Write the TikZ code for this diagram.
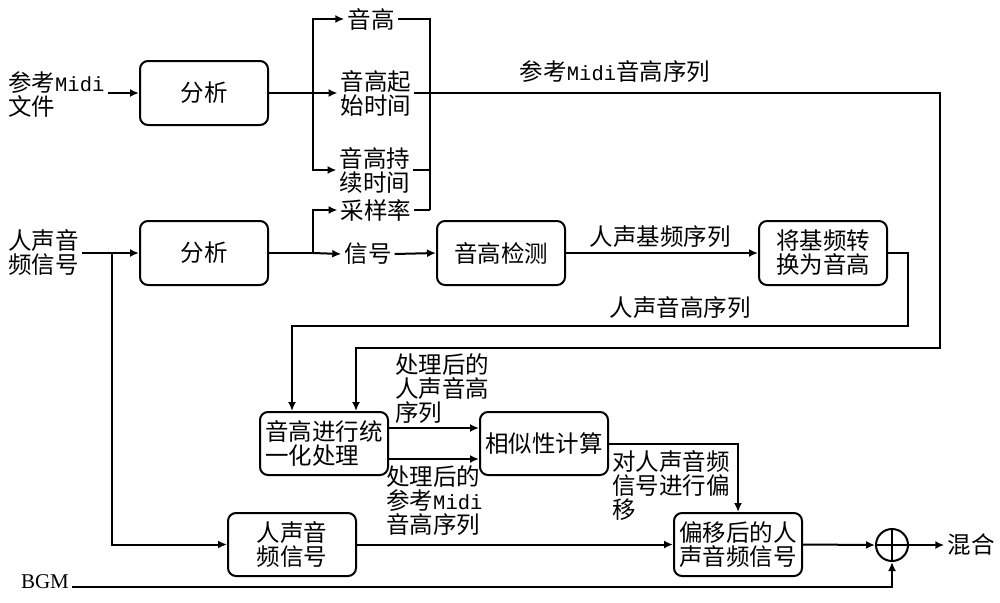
\documentclass[tikz,border=0pt]{standalone}
\usepackage{fontspec}
\setmainfont{Noto Sans CJK SC}
\newfontfamily\monof{Liberation Mono}
\newfontfamily\serf{Liberation Serif}
\usetikzlibrary{arrows.meta}
\newcommand{\Mi}{{\monof\fontsize{20.5}{24}\selectfont Midi}}
\begin{document}
\begin{tikzpicture}[x=1pt,y=-1pt,
  every node/.style={font=\fontsize{23.5}{24}\selectfont},
  box/.style={draw, line width=2pt, rounded corners=8pt, minimum width=128pt, minimum height=64pt, inner sep=2pt, align=center},
  lbl/.style={inner sep=3pt, align=left},
  ln/.style={line width=2pt},
  arr/.style={line width=2pt, -{Latex[length=9pt,width=8pt]}}]
\useasboundingbox (0,0) rectangle (1000,602);

% boxes
\node[box] (ana1) at (204,93) {分析};
\node[box] (ana2) at (204,253) {分析};
\node[box] (det) at (501,253) {音高检测};
\node[box] (conv) at (823,253) {将基频转\\换为音高};
\node[box, minimum height=63pt, align=left] (uni) at (324,443.5) {音高进行统\\一化处理};
\node[box, minimum height=63pt] (sim) at (544,443.5) {相似性计算};
\node[box, minimum height=63pt] (vox) at (292,544.5) {人声音\\频信号};
\node[box, minimum height=63pt] (shift) at (738,544.5) {偏移后的人\\声音频信号};
\node[circle, draw, line width=2pt, minimum size=32pt, inner sep=0pt] (circ) at (892,545) {};
\draw[ln] (circ.north) -- (circ.south);
\draw[ln] (circ.west) -- (circ.east);

% labels
\node[lbl, anchor=west] (midi) at (5,95) {参考\Mi\\文件};
\node[lbl, anchor=west] (voice) at (5,253) {人声音\\频信号};
\node[lbl] (pitch) at (371,19) {音高};
\node[lbl] (onset) at (376,93) {音高起\\始时间};
\node[lbl] (dur) at (375,170) {音高持\\续时间};
\node[lbl] (sr) at (376,210) {采样率};
\node[lbl] (sig) at (368,254) {信号};
\node[lbl] (mix) at (971,545) {混合};
\node[lbl] (bgm) at (45,582) {\serf\fontsize{21}{24}\selectfont BGM};
\node[lbl] (lrefseq) at (615,72) {参考\Mi 音高序列};
\node[lbl] (lf0) at (660,237) {人声基频序列};
\node[lbl] (lvseq) at (680,308) {人声音高序列};
\node[lbl, anchor=north west] (lpv) at (392,350) {处理后的\\人声音高\\序列};
\node[lbl, anchor=north west] (lpm) at (383,462) {处理后的\\参考\Mi\\音高序列};
\node[lbl, anchor=north west] (lsh) at (609,447) {对人声音频\\信号进行偏\\移};

% coordinates
\coordinate (j1) at (313,93);
\coordinate (j2) at (313,253);
\coordinate (col) at (430,210);
\coordinate (jv) at (112,253);

% midi branch
\draw[arr] (midi.east |- ana1.west) -- (ana1.west);
\draw[ln] (ana1.east) -- (j1);
\draw[arr] (j1) -- (onset.west);
\draw[arr] (j1) |- (pitch.west);
\draw[arr] (j1) |- (dur.west);
\draw[ln] (pitch.east) -| (col);
\draw[ln] (dur.east) -- (dur.east -| col);
\draw[ln] (sr.east) -- (col);
\draw[arr] (onset.east) -| (940,348) -| ([xshift=32pt]uni.north);

% voice branch
\draw[arr] (voice.east |- ana2.west) -- (ana2.west);
\draw[ln] (ana2.east) -- (j2);
\draw[arr] (j2) -- (sig.west);
\draw[arr] (j2) |- (sr.west);
\draw[arr] (sig.east) -- (det.west);
\draw[arr] (det.east) -- (conv.west);
\draw[arr] (conv.east) -| (908,326) -| ([xshift=-32pt]uni.north);
\draw[arr] (jv) |- (vox.west);

% lower part
\draw[arr] ([yshift=15.5pt]uni.east) -- ([yshift=15.5pt]sim.west);
\draw[arr] ([yshift=-15.5pt]uni.east) -- ([yshift=-15.5pt]sim.west);
\draw[arr] (sim.east) -| (shift.north);
\draw[arr] (vox.east) -- (shift.west);
\draw[arr] (shift.east) -- (circ.west);
\draw[arr] (circ.east) -- (mix.west);
\draw[arr] ([yshift=-5pt]bgm.east) -| (circ.south);
\end{tikzpicture}
\end{document}
